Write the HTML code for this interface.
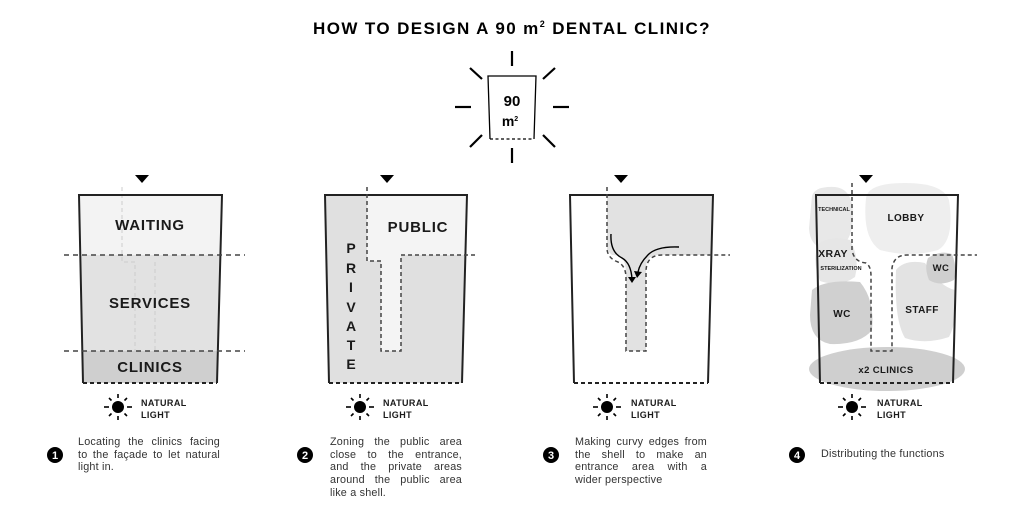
<!DOCTYPE html>
<html><head><meta charset="utf-8"><style>
html,body{margin:0;padding:0;background:#fff;}
#w{position:relative;width:1024px;height:524px;overflow:hidden;font-family:"Liberation Sans",sans-serif;}
.p{position:absolute;font-size:10.8px;line-height:12.7px;color:#333;letter-spacing:0.2px;}
.p div{text-align:justify;text-align-last:justify;white-space:nowrap;}
.p div.l{text-align-last:left;}
</style></head><body><div id="w">
<svg width="1024" height="524" viewBox="0 0 1024 524" xmlns="http://www.w3.org/2000/svg" style="position:absolute;left:0;top:0">
<defs>
<g id="sun">
<circle cx="0" cy="0" r="6" fill="#000"/>
<g stroke="#000" stroke-width="1.6">
<line x1="0" y1="-13" x2="0" y2="-9"/><line x1="0" y1="9" x2="0" y2="13"/>
<line x1="-14" y1="0" x2="-9" y2="0"/><line x1="9" y1="0" x2="14" y2="0"/>
<line x1="-9" y1="-9" x2="-6.5" y2="-6.5"/><line x1="9" y1="-9" x2="6.5" y2="-6.5"/>
<line x1="-9" y1="9" x2="-6.5" y2="6.5"/><line x1="9" y1="9" x2="6.5" y2="6.5"/>
</g></g>
</defs>
<text x="512" y="34" text-anchor="middle" font-size="17" font-weight="bold" letter-spacing="1.4" font-family="Liberation Sans">HOW TO DESIGN A 90 m<tspan font-size="9" dy="-7">2</tspan><tspan dy="7"> DENTAL CLINIC?</tspan></text>
<g stroke="#000" stroke-width="2.2">
<line x1="512" y1="51" x2="512" y2="66"/><line x1="512" y1="148" x2="512" y2="163"/>
<line x1="455" y1="107" x2="471" y2="107"/><line x1="553" y1="107" x2="569" y2="107"/>
<line x1="470" y1="68" x2="482" y2="79"/><line x1="555" y1="68" x2="543" y2="79"/>
<line x1="470" y1="147" x2="482" y2="135"/><line x1="555" y1="147" x2="543" y2="135"/>
</g>
<path d="M490 139 L488 76 L536 76 L534 139" fill="none" stroke="#000" stroke-width="1.3"/>
<line x1="490" y1="139" x2="534" y2="139" stroke="#000" stroke-width="1.3" stroke-dasharray="3,2.5"/>
<text x="512" y="106" text-anchor="middle" font-size="15" font-weight="bold">90</text>
<text x="510" y="126" text-anchor="middle" font-size="14" font-weight="bold">m<tspan font-size="7" dy="-5">2</tspan></text>

<polygon points="79,195 222,195 217,383 83,383" fill="#e2e2e2"/>
<polygon points="79,195 222,195 221,255 80,255" fill="#f3f3f3"/>
<polygon points="82,351 218,351 217,383 83,383" fill="#cfcfcf"/>
<g stroke="#ccc" stroke-width="1" stroke-dasharray="4,3" fill="none">
<path d="M122 187 V262 H135 V351"/><line x1="155" y1="262" x2="155" y2="351"/>
</g>
<path d="M83 383 L79 195 L222 195 L217 383" fill="none" stroke="#222" stroke-width="2"/>
<line x1="83" y1="383" x2="217" y2="383" stroke="#222" stroke-width="2" stroke-dasharray="4,3"/>
<g stroke="#444" stroke-width="1.5" stroke-dasharray="5,4">
<line x1="64" y1="255" x2="245" y2="255"/><line x1="64" y1="351" x2="245" y2="351"/>
</g>
<polygon points="135,175 149,175 142,183" fill="#000"/>
<g font-size="15" font-weight="bold" fill="#1a1a1a" text-anchor="middle" letter-spacing="0.8">
<text x="150" y="230">WAITING</text>
<text x="150" y="308">SERVICES</text>
<text x="150" y="372">CLINICS</text>
</g>

<polygon points="325,195 467,195 462,383 329,383" fill="#e0e0e0"/>
<path d="M367 195 H467 L466 255 H401 V351 H381 V261 H367 Z" fill="#f4f4f4"/>
<path d="M329 383 L325 195 L467 195 L462 383" fill="none" stroke="#222" stroke-width="2"/>
<line x1="329" y1="383" x2="462" y2="383" stroke="#222" stroke-width="2" stroke-dasharray="4,3"/>
<path d="M367 187 V261 H381 V351 H401 V255 H478" fill="none" stroke="#444" stroke-width="1.5" stroke-dasharray="4,3"/>
<polygon points="380,175 394,175 387,183" fill="#000"/>
<text x="418" y="232" text-anchor="middle" font-size="15" font-weight="bold" fill="#1a1a1a" letter-spacing="0.8">PUBLIC</text>
<g font-size="14" font-weight="bold" fill="#1a1a1a" text-anchor="middle">
<text x="351" y="253">P</text><text x="351" y="273">R</text><text x="351" y="292">I</text><text x="351" y="312">V</text><text x="351" y="331">A</text><text x="351" y="350">T</text><text x="351" y="369">E</text>
</g>

<path d="M607 195 H713 L712 255 H659 Q646 255 646 268 V351 H626 V272 Q626 255 612 255 L607 250 Z" fill="#e2e2e2"/>
<path d="M574 383 L570 195 L713 195 L708 383" fill="none" stroke="#222" stroke-width="2"/>
<line x1="574" y1="383" x2="708" y2="383" stroke="#222" stroke-width="2" stroke-dasharray="4,3"/>
<path d="M607 187 V248 Q607 258 618 262 Q626 266 626 278 V351 H646 V272 Q646 255 662 255 H730" fill="none" stroke="#444" stroke-width="1.5" stroke-dasharray="4,3"/>
<polygon points="614,175 628,175 621,183" fill="#000"/>
<g fill="none" stroke="#000" stroke-width="1.4">
<path d="M611 234 Q610 252 622 258 Q631 263 632 279"/>
<path d="M679 247 Q655 246 647 256 Q640 263 638 272"/>
</g>
<polygon points="628,277 636,277 632,283" fill="#000"/>
<polygon points="634,271 642,272 637,278" fill="#000"/>

<path d="M812 196 Q815 186 835 187 Q853 189 853 215 Q853 246 832 250 Q810 250 809 228 Z" fill="#e8e8e8"/>
<path d="M866 198 Q868 183 905 183 Q943 183 949 200 Q955 240 938 250 Q910 258 880 250 Q862 238 866 198 Z" fill="#eeeeee"/>
<path d="M818 244 Q830 235 850 240 Q860 258 855 277 Q840 288 820 281 Q812 262 818 244 Z" fill="#e6e6e6"/>
<path d="M812 290 Q825 279 860 282 Q875 300 872 330 Q860 345 830 344 Q810 340 810 315 Z" fill="#d0d0d0"/>
<path d="M896 270 Q905 259 925 263 Q940 287 955 290 Q958 320 949 337 Q925 345 905 338 Q894 320 896 270 Z" fill="#e3e3e3"/>
<path d="M928 258 Q940 250 952 254 Q958 270 954 280 Q940 287 929 280 Q924 268 928 258 Z" fill="#cfcfcf"/>
<ellipse cx="887" cy="369" rx="78" ry="22" fill="#cfcfcf"/>
<path d="M820 383 L816 195 L958 195 L953 383" fill="none" stroke="#222" stroke-width="2"/>
<line x1="820" y1="383" x2="953" y2="383" stroke="#222" stroke-width="2" stroke-dasharray="4,3"/>
<path d="M852 183 V250 Q854 262 866 263 Q871 266 871 276 V351 H892 V268 Q894 255 907 255 H977" fill="none" stroke="#444" stroke-width="1.5" stroke-dasharray="4,3"/>
<polygon points="859,175 873,175 866,183" fill="#000"/>
<g font-weight="bold" fill="#1a1a1a" text-anchor="middle" letter-spacing="0.4">
<text x="834" y="211" font-size="5.5" letter-spacing="0">TECHNICAL</text>
<text x="906" y="221" font-size="10">LOBBY</text>
<text x="833" y="257" font-size="10.5">XRAY</text>
<text x="841" y="270" font-size="5.5" letter-spacing="0">STERILIZATION</text>
<text x="941" y="271" font-size="9.5">WC</text>
<text x="842" y="317" font-size="10">WC</text>
<text x="922" y="313" font-size="10">STAFF</text>
<text x="886" y="373" font-size="9.5">x2 CLINICS</text>
</g>

<g font-size="9" font-weight="bold" fill="#1a1a1a" letter-spacing="0.4">
<use href="#sun" x="118" y="407"/><text x="141" y="406">NATURAL</text><text x="141" y="418">LIGHT</text>
<use href="#sun" x="360" y="407"/><text x="383" y="406">NATURAL</text><text x="383" y="418">LIGHT</text>
<use href="#sun" x="607" y="407"/><text x="631" y="406">NATURAL</text><text x="631" y="418">LIGHT</text>
<use href="#sun" x="852" y="407"/><text x="877" y="406">NATURAL</text><text x="877" y="418">LIGHT</text>
</g>
<g font-size="11" font-weight="bold" text-anchor="middle">
<circle cx="55" cy="455" r="8" fill="#000"/><text x="55" y="459" fill="#fff">1</text>
<circle cx="305" cy="455" r="8" fill="#000"/><text x="305" y="459" fill="#fff">2</text>
<circle cx="551" cy="455" r="8" fill="#000"/><text x="551" y="459" fill="#fff">3</text>
<circle cx="797" cy="455" r="8" fill="#000"/><text x="797" y="459" fill="#fff">4</text>
</g>
</svg>
<div class="p" style="left:78px;top:436px;width:142px"><div>Locating the clinics facing</div><div>to the façade to let natural</div><div class="l">light in.</div></div>
<div class="p" style="left:330px;top:436px;width:132px"><div>Zoning the public area</div><div>close to the entrance,</div><div>and the private areas</div><div>around the public area</div><div class="l">like a shell.</div></div>
<div class="p" style="left:575px;top:436px;width:132px"><div>Making curvy edges from</div><div>the shell to make an</div><div>entrance area with a</div><div class="l">wider perspective</div></div>
<div class="p" style="left:821px;top:448px;width:160px"><div class="l">Distributing the functions</div></div>
</div></body></html>
